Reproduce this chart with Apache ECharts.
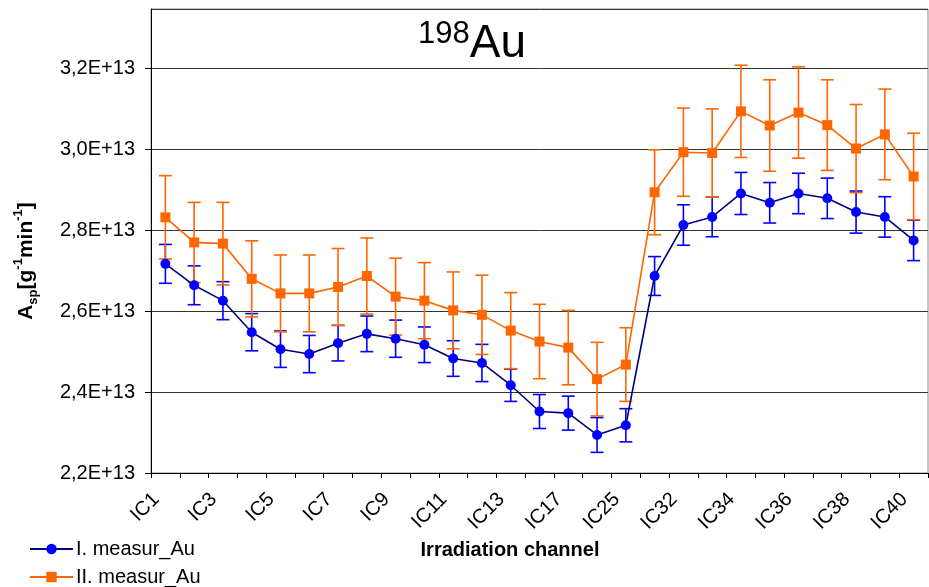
<!DOCTYPE html>
<html>
<head>
<meta charset="utf-8">
<script src="https://cdn.jsdelivr.net/npm/echarts@6/dist/echarts.min.js"></script>
<style>
html,body{margin:0;padding:0;background:#fff;}
#chart{width:929px;height:587px;}
</style>
</head>
<body>
<div id="chart"></div>
<script>
const categories = ['IC1','IC2','IC3','IC4','IC5','IC6','IC7','IC8','IC9','IC10','IC11','IC12','IC13','IC15','IC17','IC21','IC25','IC30','IC32','IC33','IC34','IC35','IC36','IC37','IC38','IC39','IC40'];
const measI = [2.717e13,2.664e13,2.626e13,2.548e13,2.506e13,2.494e13,2.521e13,2.544e13,2.532e13,2.517e13,2.483e13,2.472e13,2.417e13,2.352e13,2.348e13,2.294e13,2.318e13,2.687e13,2.813e13,2.833e13,2.891e13,2.868e13,2.891e13,2.879e13,2.845e13,2.833e13,2.775e13];
const errI = [0.048e13,0.048e13,0.047e13,0.046e13,0.045e13,0.046e13,0.044e13,0.044e13,0.046e13,0.044e13,0.044e13,0.046e13,0.040e13,0.042e13,0.042e13,0.043e13,0.041e13,0.048e13,0.050e13,0.049e13,0.052e13,0.050e13,0.050e13,0.050e13,0.052e13,0.050e13,0.050e13];
const measII = [2.832e13,2.770e13,2.767e13,2.680e13,2.644e13,2.644e13,2.660e13,2.687e13,2.636e13,2.626e13,2.602e13,2.591e13,2.552e13,2.525e13,2.510e13,2.432e13,2.468e13,2.894e13,2.993e13,2.991e13,3.094e13,3.059e13,3.091e13,3.060e13,3.002e13,3.037e13,2.933e13];
const errII = [0.103e13,0.099e13,0.102e13,0.094e13,0.095e13,0.095e13,0.095e13,0.094e13,0.095e13,0.094e13,0.095e13,0.098e13,0.094e13,0.092e13,0.092e13,0.091e13,0.091e13,0.105e13,0.109e13,0.109e13,0.114e13,0.113e13,0.113e13,0.112e13,0.109e13,0.112e13,0.107e13];
const yTicks = {min: 2.2e13, max: 3.347e13, interval: 0.2e13};

const FONT = "'Liberation Sans', Arial, sans-serif";
const chart = echarts.init(document.getElementById('chart'), null, {renderer: 'canvas'});

function errRender(color) {
  return function (params, api) {
    const i = api.value(0);
    const lo = api.coord([i, api.value(1)]);
    const hi = api.coord([i, api.value(2)]);
    const w = 6.5;
    const st = {stroke: color, lineWidth: 1.6};
    return {
      type: 'group',
      children: [
        {type: 'line', shape: {x1: lo[0], y1: lo[1], x2: hi[0], y2: hi[1]}, style: st},
        {type: 'line', shape: {x1: lo[0] - w, y1: lo[1], x2: lo[0] + w, y2: lo[1]}, style: st},
        {type: 'line', shape: {x1: hi[0] - w, y1: hi[1], x2: hi[0] + w, y2: hi[1]}, style: st}
      ]
    };
  };
}

const errDataI = categories.map((c, i) => [i, measI[i] - errI[i], measI[i] + errI[i]]);
const errDataII = categories.map((c, i) => [i, measII[i] - errII[i], measII[i] + errII[i]]);

chart.setOption({
  animation: false,
  backgroundColor: '#fff',
  grid: {left: 151, right: 1, top: 9, bottom: 114, show: true, borderColor: '#8c8c8c', borderWidth: 1},
  legend: {
    orient: 'vertical', left: 29, top: 539, padding: 0, itemGap: 8,
    itemWidth: 43, itemHeight: 13,
    data: ['I. measur_Au', 'II. measur_Au'],
    textStyle: {fontFamily: FONT, fontSize: 20, color: '#000', padding: [0, 0, 0, -2]}
  },
  xAxis: {
    type: 'category', data: categories, boundaryGap: true,
    axisLine: {lineStyle: {color: '#000', width: 1}},
    axisTick: {show: true, interval: 0, length: 5, lineStyle: {color: '#000'}},
    axisLabel: {interval: 1, rotate: 45, fontFamily: FONT, fontSize: 20, color: '#000', margin: 14, padding: [0, 13, 0, 0]},
    splitLine: {show: false}
  },
  yAxis: {
    type: 'value', min: yTicks.min, max: yTicks.max, interval: yTicks.interval,
    axisLine: {show: true, lineStyle: {color: '#000', width: 1}},
    axisTick: {show: true, length: 6, lineStyle: {color: '#000'}},
    axisLabel: {
      showMaxLabel: false, fontFamily: FONT, fontSize: 20, color: '#000', margin: 16,
      formatter: v => (v / 1e13).toFixed(1).replace('.', ',') + 'E+13'
    },
    splitLine: {show: true, lineStyle: {color: '#333', width: 1}}
  },
  graphic: [
    {
      type: 'text', left: 418, top: 19,
      style: {
        text: '{sup|198}{big|Au}',
        rich: {
          sup: {fontFamily: FONT, fontSize: 31, fill: '#000', verticalAlign: 'top', lineHeight: 31},
          big: {fontFamily: FONT, fontSize: 46, fill: '#000', lineHeight: 50}
        }
      }
    },
    {
      type: 'text', x: 26, y: 261, rotation: Math.PI / 2,
      style: {
        text: '{b|A}{sub|sp}{b|[g}{sup|-1}{b|min}{sup|-1}{b|]}',
        align: 'center', verticalAlign: 'middle',
        rich: {
          b: {fontFamily: FONT, fontWeight: 'bold', fontSize: 21, fill: '#000', lineHeight: 28},
          sub: {fontFamily: FONT, fontWeight: 'bold', fontSize: 13, fill: '#000', verticalAlign: 'bottom', lineHeight: 13},
          sup: {fontFamily: FONT, fontWeight: 'bold', fontSize: 13, fill: '#000', verticalAlign: 'top', lineHeight: 13}
        }
      }
    },
    {
      type: 'text', x: 510, y: 550,
      style: {
        text: 'Irradiation channel', align: 'center', verticalAlign: 'middle',
        fontFamily: FONT, fontWeight: 'bold', fontSize: 20, fill: '#000'
      }
    }
  ],
  series: [
    {
      name: 'I. measur_Au', type: 'line', data: measI, z: 3,
      symbol: 'circle', symbolSize: 10,
      itemStyle: {color: '#0000ff'},
      lineStyle: {color: '#000080', width: 1.6}
    },
    {
      name: 'II. measur_Au', type: 'line', data: measII, z: 3,
      symbol: 'rect', symbolSize: 10,
      itemStyle: {color: '#ff6600'},
      lineStyle: {color: '#ff6600', width: 1.6}
    },
    {
      name: 'errI', type: 'custom', data: errDataI, z: 2,
      renderItem: errRender('#0000ff'), encode: {x: 0, y: [1, 2]}, silent: true
    },
    {
      name: 'errII', type: 'custom', data: errDataII, z: 2,
      renderItem: errRender('#ff6600'), encode: {x: 0, y: [1, 2]}, silent: true
    }
  ]
});
</script>
</body>
</html>
